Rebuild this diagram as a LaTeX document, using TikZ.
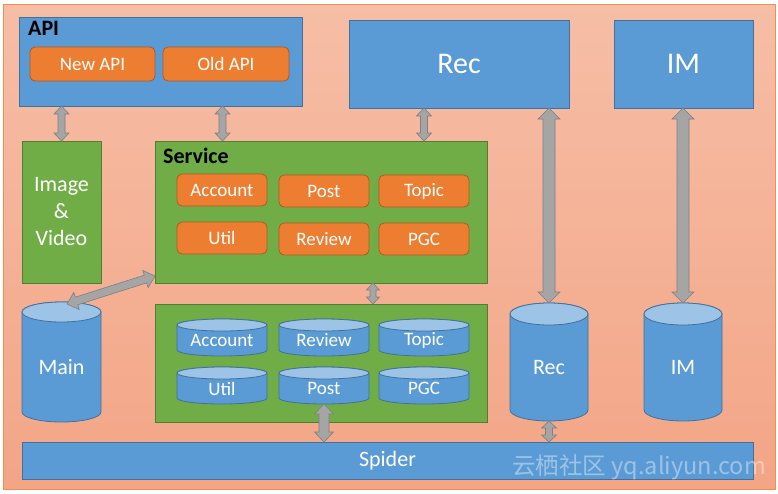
\documentclass[tikz,border=0pt]{standalone}
\usepackage{fontspec}
\setmainfont{Carlito}
\newfontfamily\cjk{Noto Sans CJK SC}
\usetikzlibrary{calc}
\definecolor{blu}{HTML}{5B9BD5}
\definecolor{bluL}{HTML}{41719C}
\definecolor{blutop}{HTML}{9DC3E6}
\definecolor{org}{HTML}{ED7D31}
\definecolor{orgL}{HTML}{AE5A21}
\definecolor{grn}{HTML}{70AD47}
\definecolor{grnL}{HTML}{507E32}
\definecolor{arrF}{HTML}{A5A5A5}
\definecolor{arrL}{HTML}{7F7F7F}
\definecolor{bgT}{HTML}{F6BEA6}
\definecolor{bgB}{HTML}{F3A586}
\tikzset{
  box/.style={anchor=north west, inner sep=0pt, outer sep=0pt, text=white, font=\fontsize{19}{23}\selectfont, line width=0.8pt},
  bluebox/.style={box, fill=blu, draw=bluL},
  grnbox/.style={box, fill=grn, draw=grnL},
  orgbox/.style={box, fill=org, draw=orgL, rounded corners=5pt},
  bigtext/.style={font=\fontsize{30}{36}\selectfont},
  midtext/.style={font=\fontsize{22}{27}\selectfont},
  smalltext/.style={font=\fontsize{19}{23}\selectfont},
  titletext/.style={anchor=north west, inner sep=0pt, text=black, font=\bfseries\fontsize{22}{26}\selectfont},
  arrst/.style={fill=arrF, draw=arrL, line width=0.6pt, line join=miter},
}
% double block arrow: from, to, shaft half width, head half width, head length
\newcommand\dbl[5]{%
  \filldraw[arrst] let \p1=(#1), \p2=(#2), \n1={atan2(\y2-\y1,\x2-\x1)} in
    (\p1) -- ($(\p1)+(\n1:#5pt)+(\n1+90:#4pt)$) -- ($(\p1)+(\n1:#5pt)+(\n1+90:#3pt)$)
    -- ($(\p2)+(\n1+180:#5pt)+(\n1+90:#3pt)$) -- ($(\p2)+(\n1+180:#5pt)+(\n1+90:#4pt)$)
    -- (\p2) -- ($(\p2)+(\n1+180:#5pt)+(\n1-90:#4pt)$) -- ($(\p2)+(\n1+180:#5pt)+(\n1-90:#3pt)$)
    -- ($(\p1)+(\n1:#5pt)+(\n1-90:#3pt)$) -- ($(\p1)+(\n1:#5pt)+(\n1-90:#4pt)$) -- cycle;}
% cylinder: name, x, y (north west), w, h, ry, text style, text
\newcommand\cylnode[8]{%
  \node[anchor=north west, minimum width=#4pt, minimum height=#5pt, inner sep=0pt, outer sep=0pt] (#1) at (#2,#3) {};
  \filldraw[fill=blu, draw=bluL, line width=0.8pt] ([yshift=-#6pt]#1.north west) -- ([yshift=#6pt]#1.south west)
    arc[start angle=180, end angle=360, x radius=#4pt/2, y radius=#6pt] -- ([yshift=-#6pt]#1.north east)
    arc[start angle=0, end angle=180, x radius=#4pt/2, y radius=#6pt] -- cycle;
  \filldraw[fill=blutop, draw=bluL, line width=0.8pt] ([yshift=-#6pt]#1.north) ellipse[x radius=#4pt/2, y radius=#6pt];
  \node[text=white, inner sep=0pt, #7] (#1t) at ([yshift=-#6pt/2]#1.center) {#8};}
\begin{document}
\begin{tikzpicture}[x=1pt, y=-1pt]
\useasboundingbox (0,0) rectangle (778,493);
\shade[top color=bgT, bottom color=bgB, draw=org!85, line width=0.8pt] (3,4) rectangle (775,489);

% API
\node[bluebox, minimum width=283pt, minimum height=89pt] (api) at (19,17) {};
\node[titletext] (apit) at (28,21) {API};
\node[orgbox, minimum width=125pt, minimum height=34pt] (newapi) at (30,47) {New API};
\node[orgbox, minimum width=126pt, minimum height=34pt] (oldapi) at (163,47) {Old API};

% Rec / IM
\node[bluebox, bigtext, minimum width=220pt, minimum height=88pt] (rec) at (349,20) {Rec};
\node[bluebox, bigtext, minimum width=139pt, minimum height=88pt] (im) at (614,20) {IM};

% Image & Video
\node[grnbox, midtext, align=center, minimum width=79pt, minimum height=142pt] (img) at (22,141) {Image\\\&\\Video};

% Service
\node[grnbox, minimum width=332pt, minimum height=142pt] (svc) at (155,141) {};
\node[titletext] (svct) at (163,148) {Service};
\node[orgbox, minimum width=90pt, minimum height=32pt] (account) at (177,174) {Account};
\node[orgbox, minimum width=90pt, minimum height=32pt] (post) at (279,175) {Post};
\node[orgbox, minimum width=90pt, minimum height=32pt] (topic) at (379,175) {Topic};
\node[orgbox, minimum width=90pt, minimum height=32pt] (util) at (177,222) {Util};
\node[orgbox, minimum width=90pt, minimum height=32pt] (review) at (279,223) {Review};
\node[orgbox, minimum width=90pt, minimum height=32pt] (pgc) at (379,223) {PGC};

% DB box
\node[grnbox, minimum width=332pt, minimum height=118pt] (db) at (155,304) {};
\cylnode{dbaccount}{177}{319}{90}{37}{6}{smalltext}{Account}
\cylnode{dbreview}{279}{319}{90}{37}{6}{smalltext}{Review}
\cylnode{dbtopic}{379}{319}{90}{37}{6}{smalltext}{Topic}
\cylnode{dbutil}{177}{367}{90}{37}{6}{smalltext}{Util}
\cylnode{dbpost}{279}{367}{90}{37}{6}{smalltext}{Post}
\cylnode{dbpgc}{379}{367}{90}{37}{6}{smalltext}{PGC}

% big cylinders
\cylnode{main}{22}{302}{79}{120}{10}{midtext}{Main}
\cylnode{reccyl}{510}{303}{78}{118}{11}{midtext}{Rec}
\cylnode{imcyl}{644}{303}{78}{118}{11}{midtext}{IM}

% Spider
\node[bluebox, midtext, minimum width=731pt, minimum height=37pt] (spider) at (22,442) {Spider};

% arrows
\dbl{img.north |- api.south}{img.north}{3.5}{7.5}{8}
\dbl{[xshift=-3.5pt]oldapi.south |- api.south}{[xshift=-3.5pt]oldapi.south |- svc.north}{3.5}{7.5}{8}
\dbl{topic.south |- rec.south}{topic.south |- svc.north}{3.5}{7.5}{8}
\dbl{reccyl.north |- rec.south}{reccyl.north}{6}{11}{11}
\dbl{imcyl.north |- im.south}{imcyl.north}{6}{11}{11}
\dbl{[yshift=7pt]svc.south west}{[xshift=5.5pt,yshift=-2pt]main.north}{4}{9}{10}
\dbl{[xshift=52pt]svc.south}{[xshift=52pt]db.north}{3}{6.5}{7}
\dbl{dbpost.south}{dbpost.south |- spider.north}{5}{9.5}{10}
\dbl{reccyl.south}{reccyl.south |- spider.north}{3.5}{7.5}{7}

% watermark
\node[anchor=south east, inner sep=0pt, text=white, opacity=0.4, font=\cjk\fontsize{23.5}{28}\selectfont] (wm) at (766,480) {云栖社区 yq.aliyun.com};
\end{tikzpicture}
\end{document}
